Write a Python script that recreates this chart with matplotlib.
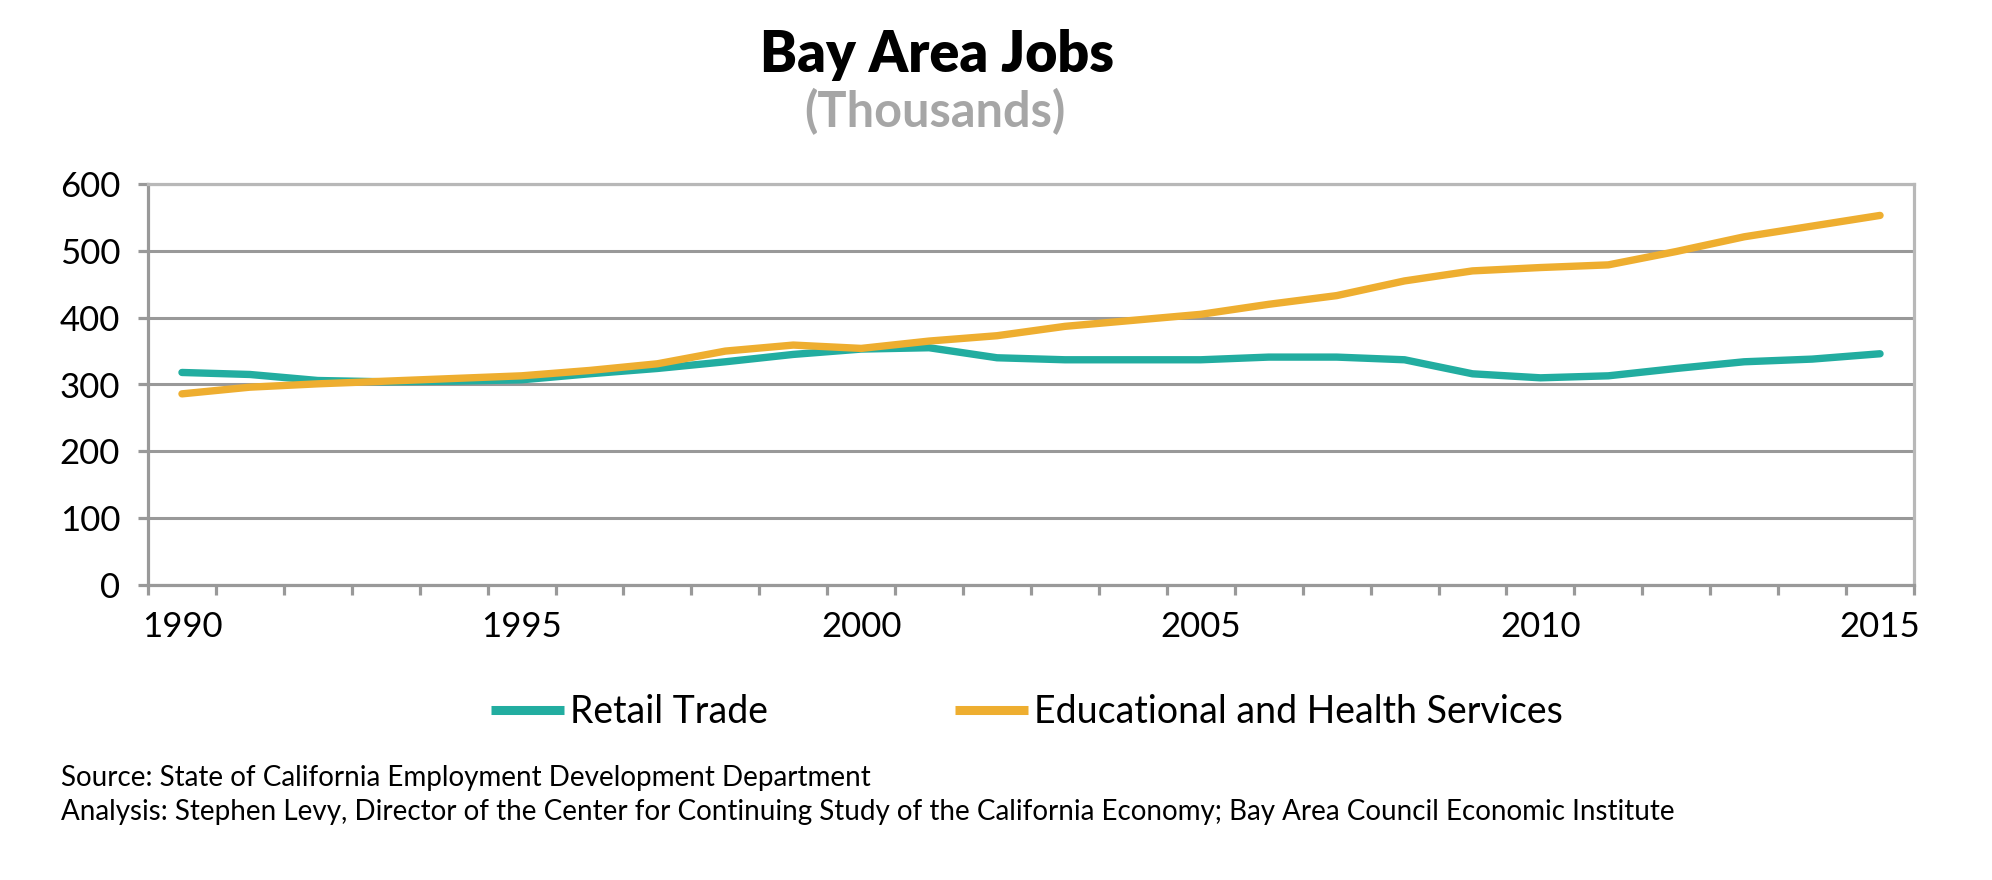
import numpy as np
import matplotlib
matplotlib.use('Agg')
import matplotlib.pyplot as plt

plt.rcParams['font.family'] = ['Lato', 'DejaVu Sans']

years = list(range(1990, 2016))
retail = [318, 315, 306, 304, 305, 307, 316, 324, 334, 345, 353, 355, 340,
          337, 337, 337, 341, 341, 337, 316, 310, 313, 324, 334, 338, 346]
edu = [286, 296, 301, 305, 309, 313, 321, 331, 350, 359, 354, 365, 373,
       387, 396, 405, 420, 433, 455, 470, 475, 479, 499, 521, 537, 553]
series_names = ['Retail Trade', 'Educational and Health Services']
colors = ['#22ADA0', '#EEAE30']
yticks = [0, 100, 200, 300, 400, 500, 600]

fig = plt.figure(figsize=(19.92, 8.8), dpi=100)
ax = fig.add_axes([148/1992, 1-585/880, (1914-148)/1992, (585-184)/880])

x = np.arange(len(years))
ax.plot(x, retail, color=colors[0], lw=5.3, solid_capstyle='round',
        solid_joinstyle='round', label=series_names[0], zorder=3)
ax.plot(x, edu, color=colors[1], lw=5.3, solid_capstyle='round',
        solid_joinstyle='round', label=series_names[1], zorder=3)

ax.set_xlim(-0.5, len(years) - 0.5)
ax.set_ylim(0, 600)

# category axis: labels every 5 years, marks between categories
ax.set_xticks(x[::5])
ax.set_xticklabels([str(y) for y in years[::5]])
ax.set_xticks(np.arange(-0.5, len(years)), minor=True)
ax.tick_params(axis='x', which='major', length=0, pad=19, labelsize=25)
ax.tick_params(axis='x', which='minor', length=7, width=2.3, color='#999999',
               direction='out')
ax.set_yticks(yticks)
ax.tick_params(axis='y', length=7, width=2.3, color='#999999', pad=13,
               labelsize=25)

ax.set_axisbelow(True)
ax.yaxis.grid(True, color='#999999', lw=2.2)
for s in ['left', 'bottom']:
    ax.spines[s].set_color('#999999')
    ax.spines[s].set_linewidth(2.3)
for s in ['top', 'right']:
    ax.spines[s].set_color('#B8B8B8')
    ax.spines[s].set_linewidth(2.3)

fig.text(937/1992, 1-55/880, 'Bay Area Jobs', ha='center', va='center',
         fontsize=40, fontweight='heavy', color='black')
fig.text(935/1992, 1-112/880, '(Thousands)', ha='center', va='center',
         fontsize=35, fontweight='bold', color='#A6A6A6')

leg = ax.legend(loc='center', bbox_to_anchor=(1027/1992, 1-712/880),
                bbox_transform=fig.transFigure, ncol=2, frameon=False,
                fontsize=27, handlelength=1.95, handletextpad=0.15,
                columnspacing=5.0)
for h in leg.get_lines():
    h.set_linewidth(6.5)
    h.set_solid_capstyle('butt')

fig.text(61/1992, 1-778/880,
         'Source: State of California Employment Development Department',
         ha='left', va='center', fontsize=20)
fig.text(61/1992, 1-812/880,
         'Analysis: Stephen Levy, Director of the Center for Continuing Study '
         'of the California Economy; Bay Area Council Economic Institute',
         ha='left', va='center', fontsize=20)

fig.savefig('out.png', dpi=100)
